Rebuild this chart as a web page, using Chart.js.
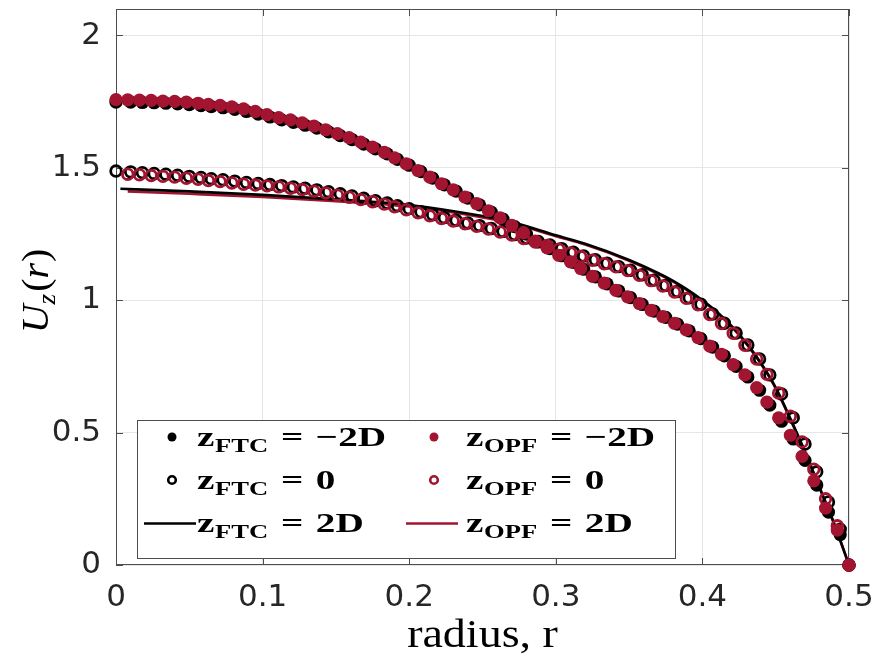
<!DOCTYPE html>
<html>
<head>
<meta charset="utf-8">
<script src="https://cdn.jsdelivr.net/npm/chart.js@4.4.1/dist/chart.umd.min.js"></script>
<style>
    html, body { margin: 0; padding: 0; background: #fff; }
    canvas { display: block; }
</style>
</head>
<body>
<canvas id="profile" width="877" height="661"></canvas>
<script>
const RED = '#A2142F';
const BLACK = '#000000';
const FRAME = '#4d4d4d';
const SERIF = '"Liberation Serif"';

// radial stations of the two data sets
const radiusOpf = [0, 0.008, 0.016, 0.024, 0.032, 0.040, 0.048, 0.056, 0.063, 0.071, 0.079, 0.087, 0.095, 0.103, 0.111, 0.119,
    0.127, 0.135, 0.143, 0.151, 0.159, 0.167, 0.175, 0.183, 0.190, 0.198, 0.206, 0.214, 0.222, 0.230, 0.238, 0.246,
    0.254, 0.262, 0.270, 0.278, 0.286, 0.294, 0.302, 0.310, 0.317, 0.325, 0.333, 0.341, 0.349, 0.357, 0.365, 0.373,
    0.381, 0.389, 0.397, 0.405, 0.413, 0.421, 0.429, 0.437, 0.444, 0.452, 0.460, 0.468, 0.476, 0.484, 0.492, 0.500];
const radiusFtc = [0, 0.010, 0.018, 0.026, 0.034, 0.042, 0.050, 0.058, 0.065, 0.073, 0.081, 0.089, 0.097, 0.105, 0.113, 0.121,
    0.129, 0.137, 0.145, 0.153, 0.161, 0.169, 0.177, 0.185, 0.192, 0.200, 0.208, 0.216, 0.224, 0.232, 0.240, 0.248,
    0.256, 0.264, 0.272, 0.280, 0.288, 0.296, 0.304, 0.312, 0.319, 0.327, 0.335, 0.343, 0.351, 0.359, 0.367, 0.375,
    0.383, 0.391, 0.399, 0.407, 0.415, 0.423, 0.431, 0.439, 0.446, 0.454, 0.462, 0.470, 0.478, 0.486, 0.494, 0.500];

// axial velocity at z = -2D
const ftcMinus2D = [1.748, 1.748, 1.747, 1.746, 1.744, 1.742, 1.739, 1.735, 1.731, 1.727, 1.721, 1.713, 1.703, 1.692, 1.681, 1.672,
    1.661, 1.650, 1.636, 1.622, 1.607, 1.590, 1.572, 1.553, 1.532, 1.510, 1.486, 1.461, 1.436, 1.412, 1.386, 1.360,
    1.333, 1.306, 1.278, 1.250, 1.220, 1.195, 1.168, 1.143, 1.117, 1.088, 1.062, 1.035, 1.010, 0.984, 0.959, 0.935,
    0.910, 0.884, 0.855, 0.823, 0.790, 0.750, 0.710, 0.660, 0.604, 0.543, 0.476, 0.395, 0.302, 0.200, 0.115, 0.000];
const opfMinus2D = [1.758, 1.757, 1.756, 1.755, 1.752, 1.751, 1.748, 1.744, 1.740, 1.736, 1.730, 1.723, 1.713, 1.701, 1.690, 1.681,
    1.670, 1.658, 1.644, 1.629, 1.614, 1.597, 1.578, 1.559, 1.538, 1.515, 1.490, 1.465, 1.440, 1.417, 1.390, 1.365,
    1.338, 1.311, 1.283, 1.255, 1.223, 1.198, 1.170, 1.145, 1.120, 1.090, 1.065, 1.037, 1.013, 0.987, 0.962, 0.938,
    0.913, 0.888, 0.859, 0.827, 0.796, 0.757, 0.718, 0.670, 0.615, 0.556, 0.490, 0.410, 0.318, 0.215, 0.132, 0.000];

// axial velocity at z = 0
const ftcZero = [1.488, 1.485, 1.482, 1.479, 1.476, 1.472, 1.468, 1.464, 1.459, 1.455, 1.450, 1.445, 1.441, 1.437, 1.433, 1.428,
    1.423, 1.417, 1.410, 1.402, 1.394, 1.385, 1.376, 1.367, 1.357, 1.346, 1.334, 1.323, 1.312, 1.302, 1.292, 1.282,
    1.271, 1.260, 1.248, 1.235, 1.222, 1.209, 1.195, 1.181, 1.167, 1.153, 1.140, 1.127, 1.113, 1.096, 1.076, 1.056,
    1.033, 1.009, 0.985, 0.948, 0.913, 0.876, 0.831, 0.778, 0.718, 0.646, 0.556, 0.457, 0.352, 0.238, 0.135, 0.000];
const opfZero = [null, 1.476, 1.474, 1.471, 1.468, 1.465, 1.461, 1.457, 1.452, 1.448, 1.443, 1.438, 1.435, 1.432, 1.428, 1.423,
    1.418, 1.412, 1.405, 1.397, 1.389, 1.380, 1.372, 1.363, 1.353, 1.342, 1.330, 1.319, 1.309, 1.299, 1.289, 1.279,
    1.269, 1.258, 1.246, 1.233, 1.220, 1.207, 1.193, 1.179, 1.165, 1.151, 1.138, 1.126, 1.112, 1.094, 1.074, 1.054,
    1.031, 1.007, 0.983, 0.946, 0.912, 0.875, 0.830, 0.778, 0.720, 0.650, 0.562, 0.465, 0.362, 0.250, 0.148, 0.000];

// axial velocity at z = 2D (drawn as curves)
const lineRadiusFtc = [0.003, 0.05, 0.10, 0.15, 0.20, 0.25, 0.27, 0.30, 0.32, 0.35, 0.37, 0.38,
    0.39, 0.40, 0.41, 0.42, 0.43, 0.44, 0.45, 0.46, 0.47, 0.48, 0.49, 0.50];
const ftcPlus2D = [1.421, 1.411, 1.398, 1.381, 1.360, 1.318, 1.295, 1.245, 1.213, 1.152, 1.102, 1.073,
    1.039, 1.000, 0.956, 0.902, 0.838, 0.762, 0.670, 0.553, 0.428, 0.292, 0.155, 0.000];
const lineRadiusOpf = [0.008, 0.05, 0.10, 0.15, 0.20, 0.25, 0.27, 0.30, 0.32, 0.35, 0.37, 0.38,
    0.39, 0.40, 0.41, 0.42, 0.43, 0.44, 0.45, 0.46, 0.47, 0.48, 0.49, 0.50];
const opfPlus2D = [1.411, 1.402, 1.390, 1.374, 1.354, 1.313, 1.291, 1.242, 1.210, 1.149, 1.099, 1.070,
    1.036, 0.997, 0.953, 0.899, 0.835, 0.759, 0.667, 0.550, 0.425, 0.290, 0.153, 0.000];

const xTicks = [0, 0.1, 0.2, 0.3, 0.4, 0.5];
const yTicks = [0, 0.5, 1, 1.5, 2];

function toPoints(rs, us) {
    return rs.map((r, i) => ({ x: r, y: us[i] })).filter(p => p.y !== null);
}

function dots(rs, us, color, sub, rhs, order) {
    return {
        data: toPoints(rs, us), order, clip: false,
        pointRadius: 6.6, pointBorderWidth: 0, pointBackgroundColor: color, pointBorderColor: color,
        legendSub: sub, legendRhs: rhs, legendKind: 'dot', legendColor: color
    };
}

function rings(rs, us, color, sub, rhs, order) {
    return {
        data: toPoints(rs, us), order, clip: false,
        pointRadius: 5.3, pointBorderWidth: 2.8, pointBackgroundColor: 'rgba(0,0,0,0)', pointBorderColor: color,
        legendSub: sub, legendRhs: rhs, legendKind: 'ring', legendColor: color
    };
}

function curve(rs, us, color, sub, rhs, order) {
    return {
        data: toPoints(rs, us), order, clip: false, showLine: true,
        borderColor: color, borderWidth: 2.6, pointRadius: 0, cubicInterpolationMode: 'monotone',
        legendSub: sub, legendRhs: rhs, legendKind: 'line', legendColor: color
    };
}

// draws a run of text pieces stretched sideways, like the wide TeX fonts
function drawRun(ctx, parts, x, y, stretch) {
    ctx.save();
    ctx.translate(x, y);
    ctx.scale(stretch, 1);
    let px = 0;
    parts.forEach(p => {
        ctx.font = p.f;
        ctx.fillText(p.t, px, p.dy || 0);
        px += ctx.measureText(p.t).width + (p.gap || 0);
    });
    ctx.restore();
    return px * stretch;
}

function runWidth(ctx, parts, stretch) {
    let w = 0;
    parts.forEach(p => { ctx.font = p.f; w += ctx.measureText(p.t).width + (p.gap || 0); });
    return w * stretch;
}

// box, inward ticks
const axesBox = {
    id: 'axesBox',
    beforeDatasetsDraw(chart) {
        const { ctx, chartArea: a, scales: { x, y } } = chart;
        ctx.save();
        ctx.strokeStyle = FRAME;
        ctx.lineWidth = 1;
        ctx.strokeRect(a.left + 0.5, a.top + 0.5, a.right - a.left - 1, a.bottom - a.top - 1);
        ctx.beginPath();
        xTicks.forEach(v => {
            const px = Math.round(x.getPixelForValue(v)) + 0.5;
            ctx.moveTo(px, a.bottom); ctx.lineTo(px, a.bottom - 7);
            ctx.moveTo(px, a.top); ctx.lineTo(px, a.top + 7);
        });
        yTicks.forEach(v => {
            const py = Math.round(y.getPixelForValue(v)) + 0.5;
            ctx.moveTo(a.left, py); ctx.lineTo(a.left + 7, py);
            ctx.moveTo(a.right, py); ctx.lineTo(a.right - 7, py);
        });
        ctx.stroke();
        ctx.restore();
    }
};

// axis titles: U_z(r) on the left, radius, r underneath
const axisTitles = {
    id: 'axisTitles',
    afterDraw(chart) {
        const { ctx, chartArea: a } = chart;
        ctx.save();
        ctx.fillStyle = BLACK;
        ctx.textBaseline = 'alphabetic';

        const yParts = [
            { t: 'U', f: `italic 38px ${SERIF}` },
            { t: 'z', f: `italic 26px ${SERIF}`, dy: 7, gap: 2 },
            { t: '(', f: `38px ${SERIF}` },
            { t: 'r', f: `italic 38px ${SERIF}`, gap: 1 },
            { t: ')', f: `38px ${SERIF}` }
        ];
        ctx.save();
        ctx.translate(36, (a.top + a.bottom) / 2 + 4);
        ctx.rotate(-Math.PI / 2);
        drawRun(ctx, yParts, -runWidth(ctx, yParts, 1.05) / 2, 12, 1.05);
        ctx.restore();

        const xParts = [{ t: 'radius, r', f: `40px ${SERIF}` }];
        const w = runWidth(ctx, xParts, 1.15);
        drawRun(ctx, xParts, (a.left + a.right) / 2 - w / 2, 647, 1.15);
        ctx.restore();
    }
};

// two-column legend in the lower left
const boxLegend = {
    id: 'boxLegend',
    afterDraw(chart) {
        const { ctx } = chart;
        const box = { left: 137, top: 420, right: 675, bottom: 558 };
        const colMarker = [172, 434];
        const colText = [197, 466];
        const rowY = [437, 480, 523];
        ctx.save();
        ctx.fillStyle = '#ffffff';
        ctx.fillRect(box.left, box.top, box.right - box.left, box.bottom - box.top);
        ctx.strokeStyle = FRAME;
        ctx.lineWidth = 1;
        ctx.strokeRect(box.left + 0.5, box.top + 0.5, box.right - box.left, box.bottom - box.top);
        chart.data.datasets.forEach((ds, k) => {
            const col = k % 2, row = Math.floor(k / 2);
            const cx = colMarker[col], cy = rowY[row];
            ctx.fillStyle = ds.legendColor;
            ctx.strokeStyle = ds.legendColor;
            if (ds.legendKind === 'dot') {
                ctx.beginPath(); ctx.arc(cx, cy, 4.5, 0, Math.PI * 2); ctx.fill();
            } else if (ds.legendKind === 'ring') {
                ctx.lineWidth = 2.6;
                ctx.beginPath(); ctx.arc(cx, cy, 3.8, 0, Math.PI * 2); ctx.stroke();
            } else {
                ctx.lineWidth = 2.6;
                ctx.beginPath(); ctx.moveTo(cx - 28, cy + 0.5); ctx.lineTo(cx + 24, cy + 0.5); ctx.stroke();
            }
            ctx.fillStyle = BLACK;
            ctx.textBaseline = 'alphabetic';
            const parts = [
                { t: 'z', f: `bold 28px ${SERIF}`, gap: 0.5 },
                { t: ds.legendSub, f: `bold 19px ${SERIF}`, dy: 6, gap: 9 },
                { t: '=', f: `bold 28px ${SERIF}`, gap: 9 },
                { t: ds.legendRhs, f: `bold 28px ${SERIF}` }
            ];
            drawRun(ctx, parts, colText[col], cy + 9, 1.4);
        });
        ctx.restore();
    }
};

new Chart(document.getElementById('profile'), {
    type: 'scatter',
    data: {
        datasets: [
            dots(radiusFtc, ftcMinus2D, BLACK, 'FTC', '\u22122D', 2),
            dots(radiusOpf, opfMinus2D, RED, 'OPF', '\u22122D', 1),
            rings(radiusFtc, ftcZero, BLACK, 'FTC', '0', 2),
            rings(radiusOpf, opfZero, RED, 'OPF', '0', 1),
            curve(lineRadiusFtc, ftcPlus2D, BLACK, 'FTC', '2D', 3),
            curve(lineRadiusOpf, opfPlus2D, RED, 'OPF', '2D', 3)
        ]
    },
    options: {
        responsive: false,
        animation: false,
        devicePixelRatio: 1,
        layout: { autoPadding: false, padding: { top: 9, right: 28, left: 0, bottom: 0 } },
        plugins: { legend: { display: false }, tooltip: { enabled: false } },
        scales: {
            x: {
                type: 'linear', min: 0, max: 0.5,
                afterFit: scale => {
                    scale.height = 96;
                    scale.paddingLeft = 0; scale.paddingRight = 0;
                },
                afterBuildTicks: scale => { scale.ticks = xTicks.map(v => ({ value: v })); },
                grid: { color: '#e6e6e6', drawTicks: false },
                border: { display: false },
                ticks: {
                    padding: 14, color: '#262626', maxRotation: 0,
                    font: { family: 'DejaVu Sans', size: 31 },
                    callback: v => String(v)
                }
            },
            y: {
                type: 'linear', min: 0, max: 2.1,
                afterFit: scale => {
                    scale.width = 116;
                    scale.paddingTop = 0; scale.paddingBottom = 0;
                },
                afterBuildTicks: scale => { scale.ticks = yTicks.map(v => ({ value: v })); },
                grid: { color: '#e6e6e6', drawTicks: false },
                border: { display: false },
                ticks: {
                    padding: 15, color: '#262626',
                    font: { family: 'DejaVu Sans', size: 31 },
                    callback: v => String(v)
                }
            }
        }
    },
    plugins: [axesBox, axisTitles, boxLegend]
});
</script>
</body>
</html>
